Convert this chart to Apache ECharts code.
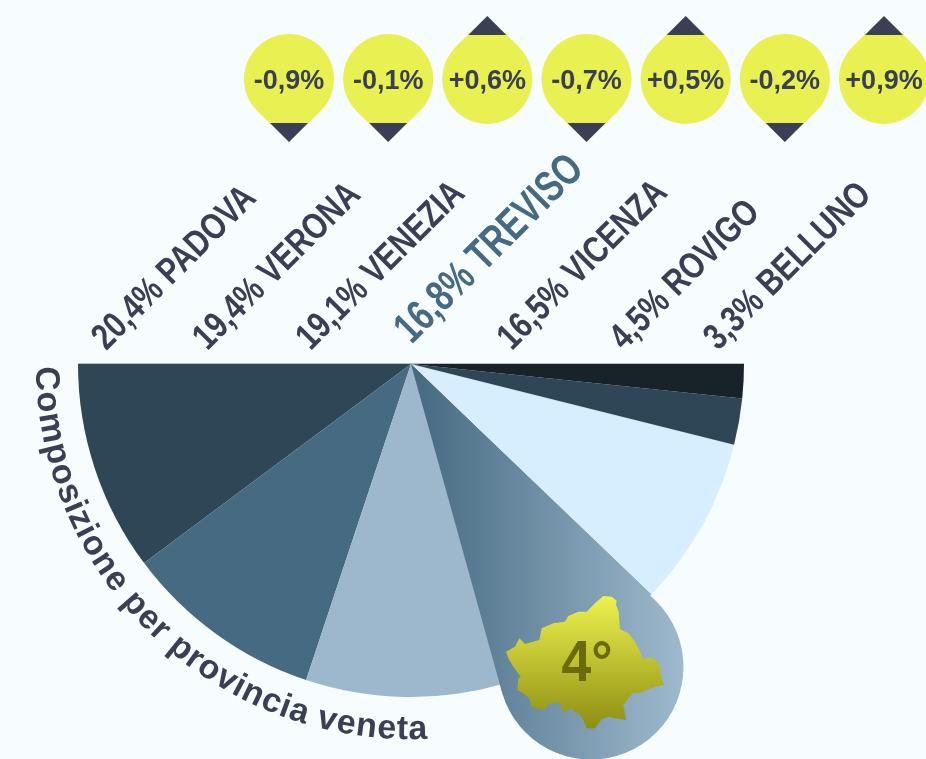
<!DOCTYPE html>
<html><head><meta charset="utf-8">
<style>html,body{margin:0;padding:0;background:#f7fcff}#c{width:926px;height:759px}</style>
<script src="https://cdn.jsdelivr.net/npm/echarts@6/dist/echarts.min.js"></script>
</head><body><div id="c"></div>
<script>
const provinces = ['PADOVA','VERONA','VENEZIA','TREVISO','VICENZA','ROVIGO','BELLUNO'];
const shares = [20.4,19.4,19.1,16.8,16.5,4.5,3.3];
const changes = [-0.9,-0.1,0.6,-0.7,0.5,-0.2,0.9];
const sliceColors = ['#2f4656','#466a82','#9db8cd',null,'#d6eeff','#2f4656','#182229'];
const highlighted = 'TREVISO';
const rankLabel = '4°';
const arcTitle = 'Composizione per provincia veneta';

const NAVY='#3a3f56', TEAL='#466a82', YEL='#e8f052';
const CX=411, CY=364;
const labelNudge=[6,5,6,6,3,13,5];
const fmt = v => v.toFixed(1).replace('.',',');
const tearFill = {type:'linear',x:415,y:0,x2:684,y2:0,global:true,colorStops:[{offset:0,color:'#466a82'},{offset:1,color:'#9fbace'}]};

const chart = echarts.init(document.getElementById('c'),null,{renderer:'canvas'});

const C={x:591,y:667}, R=92.5;
const dx=C.x-CX, dy=C.y-CY, d=Math.hypot(dx,dy), base=Math.atan2(dy,dx), off=Math.asin(R/d), tl=Math.sqrt(d*d-R*R);
const T1=[CX+tl*Math.cos(base-off),CY+tl*Math.sin(base-off)], T2=[CX+tl*Math.cos(base+off),CY+tl*Math.sin(base+off)];

const mapZ=[[370,78],[395,80],[410,92],[408,105],[416,125],[420,178],[445,190],[465,215],[478,240],[490,268],[510,262],[530,272],[540,290],[542,320],[553,345],[525,350],[500,360],[475,370],[460,368],[445,385],[430,405],[438,450],[405,445],[385,440],[365,448],[345,475],[320,475],[310,450],[300,435],[270,415],[250,430],[240,400],[210,400],[190,420],[155,410],[148,385],[130,370],[112,360],[115,325],[122,320],[100,290],[85,265],[78,245],[105,230],[118,205],[135,222],[178,210],[185,175],[220,160],[255,155],[265,138],[295,125],[320,125],[345,100]];
const mapPts=mapZ.map(p=>[480+p[0]/3,570+p[1]/3]);

const FS=34, titleFont=`bold ${FS}px "Liberation Sans"`;
const mc=document.createElement('canvas').getContext('2d'); mc.font=titleFont;
const total=mc.measureText(arcTitle).width;
const RB=377, startA=0.3*Math.PI/180;
const endA=92.6*Math.PI/180, scaleA=(endA-startA)/(total/RB);
const arcChars=[];
for(let i=0;i<arcTitle.length;i++){
  const pre=mc.measureText(arcTitle.slice(0,i)).width, w=mc.measureText(arcTitle[i]).width;
  const a=startA+(pre+w/2)/RB*scaleA, r=RB-0.33*FS;
  if(arcTitle[i]===' ')continue;
  arcChars.push({type:'text',x:CX-r*Math.cos(a),y:CY+r*Math.sin(a),rotation:-(Math.PI/2-a),
    style:{text:arcTitle[i],font:titleFont,fill:NAVY,align:'center',verticalAlign:'middle'}});
}

chart.setOption({
  backgroundColor:'#f7fcff',
  animation:false,
  grid:[{left:289,width:595,top:14,height:130,show:false},{left:105,width:613,top:300,height:50,show:false}],
  xAxis:[{type:'category',boundaryGap:false,data:provinces,show:false,gridIndex:0},{type:'category',boundaryGap:false,data:provinces,show:false,gridIndex:1}],
  yAxis:[{type:'value',min:-1,max:1,show:false,gridIndex:0},{type:'value',min:0,max:1,show:false,gridIndex:1}],
  series:[
    {type:'pie',center:[CX,CY],radius:[0,333],startAngle:180,endAngle:360,clockwise:false,silent:true,
     label:{show:false},labelLine:{show:false},z:1,
     data:provinces.map((n,i)=>({name:n,value:shares[i],itemStyle:{color:sliceColors[i]||tearFill}}))},
    {type:'custom',xAxisIndex:0,yAxisIndex:0,silent:true,z:5,coordinateSystem:'cartesian2d',clip:false,
     data:changes.map((v,i)=>[i,v]),
     renderItem(params,api){
       const i=api.value(0), v=api.value(1), p=api.coord([i,0]), x=p[0], y=p[1], r=45;
       const dir=v<0?1:-1, tipY=y+dir*63, baseY=y+dir*44;
       const dist=63, off=Math.asin(r/dist), tl=Math.sqrt(dist*dist-r*r);
       const ang=dir>0?-Math.PI/2:Math.PI/2;
       const a1=ang-off, a2=ang+off;
       const t1=[x+tl*Math.cos(a1),tipY+tl*Math.sin(a1)], t2=[x+tl*Math.cos(a2),tipY+tl*Math.sin(a2)];
       const hw=19;
       return {type:'group',children:[
         {type:'polygon',shape:{points:[t1,[x,tipY],t2]},style:{fill:YEL}},
         {type:'circle',shape:{cx:x,cy:y,r:r},style:{fill:YEL}},
         {type:'polygon',shape:{points:[[x-hw,baseY],[x+hw,baseY],[x,tipY]]},style:{fill:NAVY}},
         {type:'text',x:x,y:y+3,style:{text:(v>0?'+':'-')+fmt(Math.abs(v))+'%',font:'bold 27px "Liberation Sans"',fill:NAVY,align:'center',verticalAlign:'middle'}}
       ]};
     }},
    {type:'custom',xAxisIndex:1,yAxisIndex:1,silent:true,z:5,coordinateSystem:'cartesian2d',clip:false,
     data:shares.map((v,i)=>[i,v]),
     renderItem(params,api){
       const i=api.value(0), p=api.coord([i,0]), hi=provinces[i]===highlighted;
       return {type:'text',x:p[0]+labelNudge[i]+(hi?1:1),y:p[1]+(hi?2:7),rotation:Math.PI/4,scaleX:hi?0.745:0.8,scaleY:1,
         style:{text:fmt(api.value(1))+'% '+provinces[i],font:`bold ${hi?44:37}px "Liberation Sans"`,
                fill:hi?TEAL:NAVY,align:'left',verticalAlign:'bottom'}};
     }}
  ],
  graphic:{elements:[
    {type:'line',z:3,shape:{x1:78,y1:363.5,x2:744,y2:363.5},style:{stroke:'#b5c3cc',lineWidth:1}},
    {type:'polygon',z:4,shape:{points:[[CX,CY],T1,T2]},style:{fill:tearFill}},
    {type:'circle',z:4,shape:{cx:C.x,cy:C.y,r:R},style:{fill:tearFill}},
    {type:'polygon',z:5,shape:{points:mapPts},style:{fill:{type:'linear',x:0,y:596,x2:0,y2:731,global:true,colorStops:[{offset:0,color:'#eef24f'},{offset:1,color:'#8c8c10'}]}}},
    {type:'text',z:6,x:587,y:665,scaleX:0.92,scaleY:1,style:{text:rankLabel,font:'bold 58px "Liberation Sans"',fill:'#6a6a08',align:'center',verticalAlign:'middle'}},
    ...arcChars.map(c=>Object.assign(c,{z:6}))
  ]}
});
</script></body></html>
